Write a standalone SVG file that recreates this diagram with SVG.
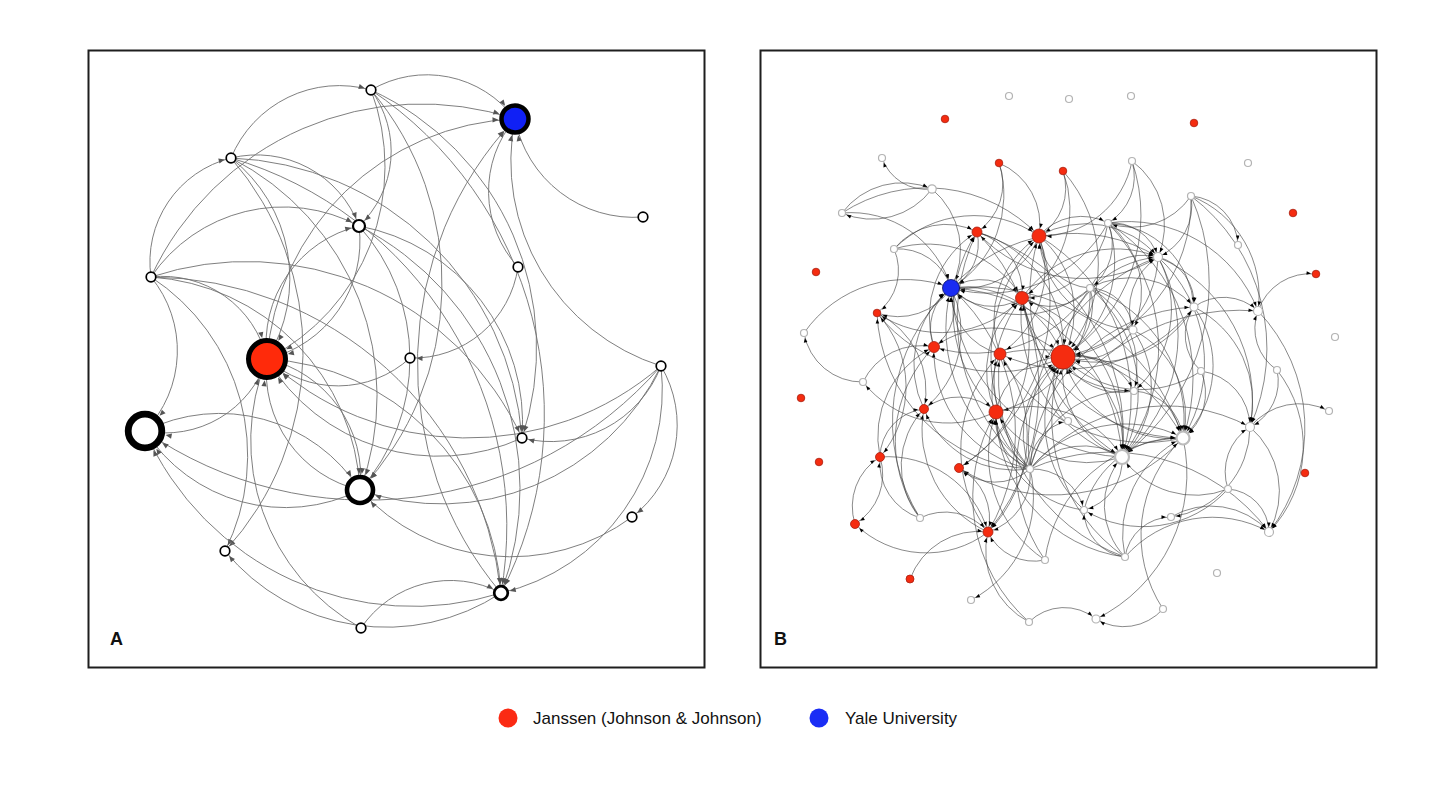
<svg xmlns="http://www.w3.org/2000/svg" width="1456" height="785" viewBox="0 0 1456 785">
<style>
.frame{fill:none;stroke:#1e1e1e;stroke-width:2}
.ea{fill:none;stroke:#707070;stroke-width:0.9}
.eb{fill:none;stroke:#3a3a3a;stroke-width:0.6}
.na{fill:#fff;stroke:#000;stroke-width:1.7}
.ng{fill:#fff;stroke:#b3b3b3;stroke-width:1.2}
.ngb{fill:#fff;stroke:#bcbcbc;stroke-width:2.2}
.nr{fill:#f52c10;stroke:#a82010;stroke-width:0.8}
.lbl{font-family:"Liberation Sans",Arial,sans-serif;font-weight:bold;font-size:18px;fill:#111}
.leg{font-family:"Liberation Sans",Arial,sans-serif;font-size:17px;fill:#111}
</style>
<defs>
<marker id="ms" markerUnits="userSpaceOnUse" viewBox="-30 -5 60 10" markerWidth="60" markerHeight="10" refX="6.5" refY="0" orient="auto" overflow="visible"><path d="M-6,-2.6L0,0L-6,2.6z" fill="#555"/></marker>
<marker id="m3" markerUnits="userSpaceOnUse" viewBox="-30 -5 60 10" markerWidth="60" markerHeight="10" refX="8" refY="0" orient="auto" overflow="visible"><path d="M-6,-2.6L0,0L-6,2.6z" fill="#555"/></marker>
<marker id="m13" markerUnits="userSpaceOnUse" viewBox="-30 -5 60 10" markerWidth="60" markerHeight="10" refX="9" refY="0" orient="auto" overflow="visible"><path d="M-6,-2.6L0,0L-6,2.6z" fill="#555"/></marker>
<marker id="m10" markerUnits="userSpaceOnUse" viewBox="-30 -5 60 10" markerWidth="60" markerHeight="10" refX="16" refY="0" orient="auto" overflow="visible"><path d="M-6,-2.6L0,0L-6,2.6z" fill="#555"/></marker>
<marker id="mY" markerUnits="userSpaceOnUse" viewBox="-30 -5 60 10" markerWidth="60" markerHeight="10" refX="16.5" refY="0" orient="auto" overflow="visible"><path d="M-6,-2.6L0,0L-6,2.6z" fill="#555"/></marker>
<marker id="mW" markerUnits="userSpaceOnUse" viewBox="-30 -5 60 10" markerWidth="60" markerHeight="10" refX="21" refY="0" orient="auto" overflow="visible"><path d="M-6,-2.6L0,0L-6,2.6z" fill="#555"/></marker>
<marker id="mR" markerUnits="userSpaceOnUse" viewBox="-30 -5 60 10" markerWidth="60" markerHeight="10" refX="21.5" refY="0" orient="auto" overflow="visible"><path d="M-6,-2.6L0,0L-6,2.6z" fill="#555"/></marker>
<marker id="bS" markerUnits="userSpaceOnUse" viewBox="-20 -5 40 10" markerWidth="40" markerHeight="10" refX="5" refY="0" orient="auto" overflow="visible"><path d="M-4.5,-1.8L0,0L-4.5,1.8z" fill="#000"/></marker>
<marker id="bM" markerUnits="userSpaceOnUse" viewBox="-20 -5 40 10" markerWidth="40" markerHeight="10" refX="6" refY="0" orient="auto" overflow="visible"><path d="M-4.5,-1.8L0,0L-4.5,1.8z" fill="#000"/></marker>
<marker id="bL" markerUnits="userSpaceOnUse" viewBox="-20 -5 40 10" markerWidth="40" markerHeight="10" refX="8" refY="0" orient="auto" overflow="visible"><path d="M-4.5,-1.8L0,0L-4.5,1.8z" fill="#000"/></marker>
<marker id="bB" markerUnits="userSpaceOnUse" viewBox="-20 -5 40 10" markerWidth="40" markerHeight="10" refX="9.5" refY="0" orient="auto" overflow="visible"><path d="M-4.5,-1.8L0,0L-4.5,1.8z" fill="#000"/></marker>
<marker id="bX" markerUnits="userSpaceOnUse" viewBox="-20 -5 40 10" markerWidth="40" markerHeight="10" refX="13" refY="0" orient="auto" overflow="visible"><path d="M-4.5,-1.8L0,0L-4.5,1.8z" fill="#000"/></marker>
</defs>
<rect width="1456" height="785" fill="#fff"/>
<g id="frames">
<rect class="frame" x="88.5" y="50.5" width="616" height="617"/>
<rect class="frame" x="760.5" y="50.5" width="616" height="617"/>
</g>
<g id="connectors-A">
<path class="ea" marker-end="url(#mY)" d="M371 90A110 110 0 0 1 515 119"/>
<path class="ea" marker-end="url(#m3)" d="M371 90A103 103 0 0 1 359 226"/>
<path class="ea" marker-end="url(#mR)" d="M371 90A216 216 0 0 1 267 359"/>
<path class="ea" marker-end="url(#m10)" d="M371 90A300 300 0 0 1 360 490"/>
<path class="ea" marker-end="url(#m13)" d="M371 90A390 390 0 0 1 501 593"/>
<path class="ea" marker-end="url(#ms)" d="M371 90A284 284 0 0 1 522 438"/>
<path class="ea" marker-end="url(#ms)" d="M231 158A117 117 0 0 1 371 90"/>
<path class="ea" marker-end="url(#m3)" d="M231 158A109 109 0 0 1 359 226"/>
<path class="ea" marker-end="url(#mR)" d="M231 158A153 153 0 0 1 267 359"/>
<path class="ea" marker-end="url(#m10)" d="M231 158A267 267 0 0 1 360 490"/>
<path class="ea" marker-end="url(#m13)" d="M231 158A384 384 0 0 1 501 593"/>
<path class="ea" marker-end="url(#ms)" d="M231 158A295 295 0 0 1 225 551"/>
<path class="ea" marker-end="url(#ms)" d="M231 158A303 303 0 0 1 522 438"/>
<path class="ea" marker-end="url(#ms)" d="M151 277A107 107 0 0 1 231 158"/>
<path class="ea" marker-end="url(#mY)" d="M151 277A298 298 0 0 1 515 119"/>
<path class="ea" marker-end="url(#m3)" d="M151 277A160 160 0 0 1 359 226"/>
<path class="ea" marker-end="url(#mR)" d="M151 277A107 107 0 0 1 267 359"/>
<path class="ea" marker-end="url(#mW)" d="M151 277A116 116 0 0 1 145 431"/>
<path class="ea" marker-end="url(#ms)" d="M151 277A303 303 0 0 1 522 438"/>
<path class="ea" marker-end="url(#m10)" d="M151 277A224 224 0 0 1 360 490"/>
<path class="ea" marker-end="url(#m13)" d="M151 277A354 354 0 0 1 501 593"/>
<path class="ea" marker-end="url(#ms)" d="M151 277A213 213 0 0 1 225 551"/>
<path class="ea" marker-end="url(#mY)" d="M267 359A259 259 0 0 1 515 119"/>
<path class="ea" marker-end="url(#m3)" d="M267 359A121 121 0 0 1 359 226"/>
<path class="ea" marker-end="url(#mW)" d="M267 359A107 107 0 0 1 145 431"/>
<path class="ea" marker-end="url(#m10)" d="M267 359A121 121 0 0 1 360 490"/>
<path class="ea" marker-end="url(#m13)" d="M267 359A248 248 0 0 1 501 593"/>
<path class="ea" marker-end="url(#mR)" d="M359 226A121 121 0 0 1 267 359"/>
<path class="ea" marker-end="url(#m10)" d="M359 226A198 198 0 0 1 360 490"/>
<path class="ea" marker-end="url(#m13)" d="M359 226A295 295 0 0 1 501 593"/>
<path class="ea" marker-end="url(#ms)" d="M359 226A200 200 0 0 1 522 438"/>
<path class="ea" marker-end="url(#mY)" d="M518 267A112 112 0 0 1 515 119"/>
<path class="ea" marker-end="url(#ms)" d="M518 267A106 106 0 0 1 410 358"/>
<path class="ea" marker-end="url(#mY)" d="M661 366A215 215 0 0 1 515 119"/>
<path class="ea" marker-end="url(#mR)" d="M661 366A295 295 0 0 1 267 359"/>
<path class="ea" marker-end="url(#ms)" d="M661 366A118 118 0 0 1 522 438"/>
<path class="ea" marker-end="url(#m10)" d="M661 366A244 244 0 0 1 360 490"/>
<path class="ea" marker-end="url(#m13)" d="M661 366A209 209 0 0 1 501 593"/>
<path class="ea" marker-end="url(#ms)" d="M661 366A116 116 0 0 1 632 517"/>
<path class="ea" marker-end="url(#mW)" d="M661 366A390 390 0 0 1 145 431"/>
<path class="ea" marker-end="url(#mW)" d="M360 490A167 167 0 0 1 145 431"/>
<path class="ea" marker-end="url(#mR)" d="M360 490A121 121 0 0 1 267 359"/>
<path class="ea" marker-end="url(#m10)" d="M632 517A204 204 0 0 1 360 490"/>
<path class="ea" marker-end="url(#ms)" d="M501 593A209 209 0 0 1 225 551"/>
<path class="ea" marker-end="url(#mW)" d="M501 593A293 293 0 0 1 145 431"/>
<path class="ea" marker-end="url(#mY)" d="M501 593A356 356 0 0 1 515 119"/>
<path class="ea" marker-end="url(#mR)" d="M361 628A214 214 0 0 1 267 359"/>
<path class="ea" marker-end="url(#m13)" d="M361 628A108 108 0 0 1 501 593"/>
<path class="ea" marker-end="url(#mY)" d="M643 217A121 121 0 0 1 515 119"/>
<path class="ea" marker-end="url(#m10)" d="M145 431A167 167 0 0 1 360 490"/>
<path class="ea" marker-end="url(#mR)" d="M410 358A107 107 0 0 1 267 359"/>
<path class="ea" marker-end="url(#mR)" d="M522 438A200 200 0 0 1 267 359"/>
</g>
<g id="A-n1"><circle class="na" cx="371" cy="90" r="4.8"/></g>
<g id="A-yale"><circle cx="515" cy="119" r="13.5" fill="#1020f5" stroke="#000" stroke-width="4.5"/></g>
<g id="A-n2"><circle class="na" cx="231" cy="158" r="4.8"/></g>
<g id="A-n3"><circle class="na" cx="359" cy="226" r="6" style="stroke-width:2.2"/></g>
<g id="A-n4"><circle class="na" cx="643" cy="217" r="4.8"/></g>
<g id="A-n5"><circle class="na" cx="151" cy="277" r="4.8"/></g>
<g id="A-n6"><circle class="na" cx="518" cy="267" r="4.8"/></g>
<g id="A-janssen"><circle cx="267" cy="359" r="18.5" fill="#ff2a0a" stroke="#000" stroke-width="5"/></g>
<g id="A-n7"><circle class="na" cx="410" cy="358" r="4.8"/></g>
<g id="A-n8"><circle class="na" cx="661" cy="366" r="4.8"/></g>
<g id="A-n9"><circle class="na" cx="145" cy="431" r="16.8" style="stroke-width:6.8"/></g>
<g id="A-n10"><circle class="na" cx="522" cy="438" r="4.8"/></g>
<g id="A-n11"><circle class="na" cx="360" cy="490" r="13" style="stroke-width:4.6"/></g>
<g id="A-n12"><circle class="na" cx="632" cy="517" r="4.8"/></g>
<g id="A-n13"><circle class="na" cx="225" cy="551" r="4.8"/></g>
<g id="A-n14"><circle class="na" cx="501" cy="593" r="6.8" style="stroke-width:2.7"/></g>
<g id="A-n15"><circle class="na" cx="361" cy="628" r="4.8"/></g>
<text class="lbl" x="110" y="645">A</text>

<g id="connectors-B">
<path class="eb" marker-end="url(#bX)" d="M951 288A105 105 0 0 1 1063 357"/>
<path class="eb" marker-end="url(#bX)" d="M1039 236A98 98 0 0 1 1063 357"/>
<path class="eb" marker-end="url(#bX)" d="M1022 298A56 56 0 0 1 1063 357"/>
<path class="eb" marker-end="url(#bX)" d="M1108 223A114 114 0 0 1 1063 357"/>
<path class="eb" marker-end="url(#bX)" d="M1158 257A104 104 0 0 1 1063 357"/>
<path class="eb" marker-end="url(#bX)" d="M1194 307A113 113 0 0 1 1063 357"/>
<path class="eb" marker-end="url(#bX)" d="M1030 469A94 94 0 0 1 1063 357"/>
<path class="eb" marker-end="url(#bX)" d="M1122 457A93 93 0 0 1 1063 357"/>
<path class="eb" marker-end="url(#bX)" d="M1084 510A121 121 0 0 1 1063 357"/>
<path class="eb" marker-end="url(#bX)" d="M1125 557A169 169 0 0 1 1063 357"/>
<path class="eb" marker-end="url(#bX)" d="M1063 171A140 140 0 0 1 1063 357"/>
<path class="eb" marker-end="url(#bX)" d="M977 232A119 119 0 0 1 1063 357"/>
<path class="eb" marker-end="url(#bX)" d="M1090 288A60 60 0 0 1 1063 357"/>
<path class="eb" marker-end="url(#bX)" d="M1201 371A108 108 0 0 1 1063 357"/>
<path class="eb" marker-end="url(#bX)" d="M1183 438A114 114 0 0 1 1063 357"/>
<path class="eb" marker-end="url(#bX)" d="M934 347A100 100 0 0 1 1063 357"/>
<path class="eb" marker-end="url(#bX)" d="M996 412A67 67 0 0 1 1063 357"/>
<path class="eb" marker-end="url(#bX)" d="M1045 560A158 158 0 0 1 1063 357"/>
<path class="eb" marker-end="url(#bX)" d="M1191 196A159 159 0 0 1 1063 357"/>
<path class="eb" marker-end="url(#bX)" d="M1132 161A168 168 0 0 1 1063 357"/>
<path class="eb" marker-end="url(#bX)" d="M1134 391A64 64 0 0 1 1063 357"/>
<path class="eb" marker-end="url(#bX)" d="M1133 330A61 61 0 0 1 1063 357"/>
<path class="eb" marker-end="url(#bX)" d="M1068 421A48 48 0 0 1 1063 357"/>
<path class="eb" marker-end="url(#bB)" d="M932 189A80 80 0 0 1 951 288"/>
<path class="eb" marker-end="url(#bB)" d="M894 249A55 55 0 0 1 951 288"/>
<path class="eb" marker-end="url(#bB)" d="M804 333A124 124 0 0 1 951 288"/>
<path class="eb" marker-end="url(#bB)" d="M977 232A50 50 0 0 1 951 288"/>
<path class="eb" marker-end="url(#bB)" d="M1039 236A82 82 0 0 1 951 288"/>
<path class="eb" marker-end="url(#bB)" d="M1022 298A56 56 0 0 1 951 288"/>
<path class="eb" marker-end="url(#bB)" d="M1030 469A160 160 0 0 1 951 288"/>
<path class="eb" marker-end="url(#bB)" d="M1090 288A104 104 0 0 1 951 288"/>
<path class="eb" marker-end="url(#bB)" d="M924 409A99 99 0 0 1 951 288"/>
<path class="eb" marker-end="url(#bB)" d="M934 347A50 50 0 0 1 951 288"/>
<path class="eb" marker-end="url(#bB)" d="M920 518A182 182 0 0 1 951 288"/>
<path class="eb" marker-end="url(#bB)" d="M1108 223A137 137 0 0 1 951 288"/>
<path class="eb" marker-end="url(#bB)" d="M1000 354A65 65 0 0 1 951 288"/>
<path class="eb" marker-end="url(#bB)" d="M842 213A104 104 0 0 1 951 288"/>
<path class="eb" marker-end="url(#bB)" d="M999 163A108 108 0 0 1 951 288"/>
<path class="eb" marker-end="url(#bB)" d="M1122 457A179 179 0 0 1 951 288"/>
<path class="eb" marker-end="url(#bL)" d="M999 163A67 67 0 0 1 1039 236"/>
<path class="eb" marker-end="url(#bL)" d="M1063 171A56 56 0 0 1 1039 236"/>
<path class="eb" marker-end="url(#bL)" d="M894 249A113 113 0 0 1 1039 236"/>
<path class="eb" marker-end="url(#bL)" d="M1030 469A178 178 0 0 1 1039 236"/>
<path class="eb" marker-end="url(#bL)" d="M1000 354A100 100 0 0 1 1039 236"/>
<path class="eb" marker-end="url(#bL)" d="M1090 288A54 54 0 0 1 1039 236"/>
<path class="eb" marker-end="url(#bL)" d="M1133 330A99 99 0 0 1 1039 236"/>
<path class="eb" marker-end="url(#bL)" d="M1122 457A190 190 0 0 1 1039 236"/>
<path class="eb" marker-end="url(#bL)" d="M842 213A155 155 0 0 1 1039 236"/>
<path class="eb" marker-end="url(#bL)" d="M1132 161A92 92 0 0 1 1039 236"/>
<path class="eb" marker-end="url(#bL)" d="M1108 223A87 87 0 0 1 1022 298"/>
<path class="eb" marker-end="url(#bL)" d="M977 232A63 63 0 0 1 1022 298"/>
<path class="eb" marker-end="url(#bL)" d="M996 412A93 93 0 0 1 1022 298"/>
<path class="eb" marker-end="url(#bL)" d="M1030 469A131 131 0 0 1 1022 298"/>
<path class="eb" marker-end="url(#bL)" d="M1122 457A149 149 0 0 1 1022 298"/>
<path class="eb" marker-end="url(#bL)" d="M951 288A56 56 0 0 1 1022 298"/>
<path class="eb" marker-end="url(#bL)" d="M1134 391A112 112 0 0 1 1022 298"/>
<path class="eb" marker-end="url(#bL)" d="M894 249A111 111 0 0 1 1022 298"/>
<path class="eb" marker-end="url(#bL)" d="M1183 438A163 163 0 0 1 1022 298"/>
<path class="eb" marker-end="url(#bL)" d="M1090 288A52 52 0 0 1 1022 298"/>
<path class="eb" marker-end="url(#bL)" d="M1063 171A107 107 0 0 1 1022 298"/>
<path class="eb" marker-end="url(#bM)" d="M999 163A58 58 0 0 1 977 232"/>
<path class="eb" marker-end="url(#bM)" d="M894 249A67 67 0 0 1 977 232"/>
<path class="eb" marker-end="url(#bM)" d="M934 347A99 99 0 0 1 977 232"/>
<path class="eb" marker-end="url(#bM)" d="M996 412A141 141 0 0 1 977 232"/>
<path class="eb" marker-end="url(#bM)" d="M1158 257A143 143 0 0 1 977 232"/>
<path class="eb" marker-end="url(#bM)" d="M1030 469A194 194 0 0 1 977 232"/>
<path class="eb" marker-end="url(#bM)" d="M880 457A99 99 0 0 1 934 347"/>
<path class="eb" marker-end="url(#bM)" d="M1030 469A120 120 0 0 1 934 347"/>
<path class="eb" marker-end="url(#bM)" d="M951 288A50 50 0 0 1 934 347"/>
<path class="eb" marker-end="url(#bM)" d="M1090 288A135 135 0 0 1 934 347"/>
<path class="eb" marker-end="url(#bM)" d="M920 518A133 133 0 0 1 934 347"/>
<path class="eb" marker-end="url(#bL)" d="M1030 469A95 95 0 0 1 1000 354"/>
<path class="eb" marker-end="url(#bL)" d="M1194 307A160 160 0 0 1 1000 354"/>
<path class="eb" marker-end="url(#bL)" d="M1183 438A163 163 0 0 1 1000 354"/>
<path class="eb" marker-end="url(#bL)" d="M1039 236A100 100 0 0 1 1000 354"/>
<path class="eb" marker-end="url(#bL)" d="M988 532A137 137 0 0 1 1000 354"/>
<path class="eb" marker-end="url(#bL)" d="M1125 557A190 190 0 0 1 1000 354"/>
<path class="eb" marker-end="url(#bL)" d="M1030 469A53 53 0 0 1 996 412"/>
<path class="eb" marker-end="url(#bL)" d="M1090 288A121 121 0 0 1 996 412"/>
<path class="eb" marker-end="url(#bL)" d="M1122 457A108 108 0 0 1 996 412"/>
<path class="eb" marker-end="url(#bL)" d="M924 409A55 55 0 0 1 996 412"/>
<path class="eb" marker-end="url(#bL)" d="M1045 560A126 126 0 0 1 996 412"/>
<path class="eb" marker-end="url(#bL)" d="M1125 557A148 148 0 0 1 996 412"/>
<path class="eb" marker-end="url(#bL)" d="M1084 510A100 100 0 0 1 996 412"/>
<path class="eb" marker-end="url(#bM)" d="M951 288A99 99 0 0 1 924 409"/>
<path class="eb" marker-end="url(#bM)" d="M880 457A49 49 0 0 1 924 409"/>
<path class="eb" marker-end="url(#bM)" d="M1030 469A98 98 0 0 1 924 409"/>
<path class="eb" marker-end="url(#bM)" d="M988 532A112 112 0 0 1 924 409"/>
<path class="eb" marker-end="url(#bM)" d="M1030 469A53 53 0 0 1 959 468"/>
<path class="eb" marker-end="url(#bM)" d="M1039 236A198 198 0 0 1 959 468"/>
<path class="eb" marker-end="url(#bM)" d="M1022 298A146 146 0 0 1 959 468"/>
<path class="eb" marker-end="url(#bM)" d="M1183 438A177 177 0 0 1 959 468"/>
<path class="eb" marker-end="url(#bM)" d="M910 579A73 73 0 0 1 988 532"/>
<path class="eb" marker-end="url(#bM)" d="M951 288A194 194 0 0 1 988 532"/>
<path class="eb" marker-end="url(#bM)" d="M1030 469A60 60 0 0 1 988 532"/>
<path class="eb" marker-end="url(#bM)" d="M977 232A228 228 0 0 1 988 532"/>
<path class="eb" marker-end="url(#bM)" d="M1000 354A137 137 0 0 1 988 532"/>
<path class="eb" marker-end="url(#bM)" d="M1045 560A51 51 0 0 1 988 532"/>
<path class="eb" marker-end="url(#bM)" d="M1029 622A80 80 0 0 1 988 532"/>
<path class="eb" marker-end="url(#bM)" d="M880 457A58 58 0 0 1 855 524"/>
<path class="eb" marker-end="url(#bM)" d="M855 524A58 58 0 0 1 880 457"/>
<path class="eb" marker-end="url(#bM)" d="M988 532A102 102 0 0 1 855 524"/>
<path class="eb" marker-end="url(#bM)" d="M920 518A58 58 0 0 1 880 457"/>
<path class="eb" marker-end="url(#bM)" d="M877 313A108 108 0 0 1 880 457"/>
<path class="eb" marker-end="url(#bM)" d="M951 288A63 63 0 0 1 877 313"/>
<path class="eb" marker-end="url(#bM)" d="M1022 298A113 113 0 0 1 877 313"/>
<path class="eb" marker-end="url(#bM)" d="M1063 357A153 153 0 0 1 877 313"/>
<path class="eb" marker-end="url(#bM)" d="M1030 469A163 163 0 0 1 877 313"/>
<path class="eb" marker-end="url(#bS)" d="M863 382A59 59 0 0 1 804 333"/>
<path class="eb" marker-end="url(#bS)" d="M996 412A109 109 0 0 1 863 382"/>
<path class="eb" marker-end="url(#bS)" d="M932 189A47 47 0 0 1 882 158"/>
<path class="eb" marker-end="url(#bS)" d="M932 189A75 75 0 0 1 842 213"/>
<path class="eb" marker-end="url(#bS)" d="M842 213A75 75 0 0 1 932 189"/>
<path class="eb" marker-end="url(#bM)" d="M894 249A53 53 0 0 1 877 313"/>
<path class="eb" marker-end="url(#bL)" d="M1063 357A93 93 0 0 1 1122 457"/>
<path class="eb" marker-end="url(#bL)" d="M1108 223A180 180 0 0 1 1122 457"/>
<path class="eb" marker-end="url(#bL)" d="M1125 557A75 75 0 0 1 1122 457"/>
<path class="eb" marker-end="url(#bL)" d="M1030 469A73 73 0 0 1 1122 457"/>
<path class="eb" marker-end="url(#bL)" d="M1090 288A137 137 0 0 1 1122 457"/>
<path class="eb" marker-end="url(#bL)" d="M1158 257A161 161 0 0 1 1122 457"/>
<path class="eb" marker-end="url(#bL)" d="M1133 330A98 98 0 0 1 1122 457"/>
<path class="eb" marker-end="url(#bL)" d="M1228 489A89 89 0 0 1 1122 457"/>
<path class="eb" marker-end="url(#bL)" d="M1191 196A217 217 0 0 1 1122 457"/>
<path class="eb" marker-end="url(#bL)" d="M1022 298A149 149 0 0 1 1122 457"/>
<path class="eb" marker-end="url(#bL)" d="M1039 236A190 190 0 0 1 1122 457"/>
<path class="eb" marker-end="url(#bL)" d="M977 232A212 212 0 0 1 1122 457"/>
<path class="eb" marker-end="url(#bL)" d="M951 288A179 179 0 0 1 1122 457"/>
<path class="eb" marker-end="url(#bL)" d="M996 412A108 108 0 0 1 1122 457"/>
<path class="eb" marker-end="url(#bL)" d="M1030 469A124 124 0 0 1 1183 438"/>
<path class="eb" marker-end="url(#bL)" d="M1158 257A143 143 0 0 1 1183 438"/>
<path class="eb" marker-end="url(#bL)" d="M1125 557A107 107 0 0 1 1183 438"/>
<path class="eb" marker-end="url(#bL)" d="M1063 357A114 114 0 0 1 1183 438"/>
<path class="eb" marker-end="url(#bL)" d="M1108 223A184 184 0 0 1 1183 438"/>
<path class="eb" marker-end="url(#bL)" d="M1084 510A96 96 0 0 1 1183 438"/>
<path class="eb" marker-end="url(#bL)" d="M1163 609A134 134 0 0 1 1183 438"/>
<path class="eb" marker-end="url(#bL)" d="M1090 288A140 140 0 0 1 1183 438"/>
<path class="eb" marker-end="url(#bL)" d="M1133 330A96 96 0 0 1 1183 438"/>
<path class="eb" marker-end="url(#bL)" d="M1201 371A56 56 0 0 1 1183 438"/>
<path class="eb" marker-end="url(#bL)" d="M1194 307A101 101 0 0 1 1183 438"/>
<path class="eb" marker-end="url(#bL)" d="M951 288A219 219 0 0 1 1183 438"/>
<path class="eb" marker-end="url(#bL)" d="M1000 354A163 163 0 0 1 1183 438"/>
<path class="eb" marker-end="url(#bS)" d="M1191 196A191 191 0 0 1 1250 427"/>
<path class="eb" marker-end="url(#bS)" d="M1194 307A107 107 0 0 1 1250 427"/>
<path class="eb" marker-end="url(#bS)" d="M1030 469A178 178 0 0 1 1250 427"/>
<path class="eb" marker-end="url(#bS)" d="M1201 371A57 57 0 0 1 1250 427"/>
<path class="eb" marker-end="url(#bS)" d="M1158 257A155 155 0 0 1 1250 427"/>
<path class="eb" marker-end="url(#bS)" d="M1250 427A85 85 0 0 1 1269 532"/>
<path class="eb" marker-end="url(#bS)" d="M1228 489A44 44 0 0 1 1269 532"/>
<path class="eb" marker-end="url(#bS)" d="M1171 517A78 78 0 0 1 1269 532"/>
<path class="eb" marker-end="url(#bS)" d="M1030 469A198 198 0 0 1 1269 532"/>
<path class="eb" marker-end="url(#bS)" d="M1258 311A169 169 0 0 1 1269 532"/>
<path class="eb" marker-end="url(#bS)" d="M1277 370A124 124 0 0 1 1269 532"/>
<path class="eb" marker-end="url(#bS)" d="M1125 557A116 116 0 0 1 1269 532"/>
<path class="eb" marker-end="url(#bS)" d="M1108 223A48 48 0 0 1 1158 257"/>
<path class="eb" marker-end="url(#bS)" d="M1030 469A198 198 0 0 1 1158 257"/>
<path class="eb" marker-end="url(#bS)" d="M1090 288A60 60 0 0 1 1158 257"/>
<path class="eb" marker-end="url(#bS)" d="M1063 357A104 104 0 0 1 1158 257"/>
<path class="eb" marker-end="url(#bS)" d="M1133 330A62 62 0 0 1 1158 257"/>
<path class="eb" marker-end="url(#bS)" d="M1132 161A80 80 0 0 1 1158 257"/>
<path class="eb" marker-end="url(#bS)" d="M1039 236A95 95 0 0 1 1158 257"/>
<path class="eb" marker-end="url(#bS)" d="M951 288A164 164 0 0 1 1158 257"/>
<path class="eb" marker-end="url(#bS)" d="M1022 298A114 114 0 0 1 1158 257"/>
<path class="eb" marker-end="url(#bS)" d="M1191 196A56 56 0 0 1 1158 257"/>
<path class="eb" marker-end="url(#bS)" d="M1108 223A139 139 0 0 1 1258 311"/>
<path class="eb" marker-end="url(#bS)" d="M1191 196A107 107 0 0 1 1258 311"/>
<path class="eb" marker-end="url(#bS)" d="M1194 307A50 50 0 0 1 1258 311"/>
<path class="eb" marker-end="url(#bS)" d="M1258 311A55 55 0 0 1 1316 274"/>
<path class="eb" marker-end="url(#bS)" d="M1030 469A218 218 0 0 1 1258 311"/>
<path class="eb" marker-end="url(#bS)" d="M1277 370A50 50 0 0 1 1258 311"/>
<path class="eb" marker-end="url(#bS)" d="M1108 223A90 90 0 0 1 1194 307"/>
<path class="eb" marker-end="url(#bS)" d="M1090 288A84 84 0 0 1 1194 307"/>
<path class="eb" marker-end="url(#bS)" d="M1030 469A172 172 0 0 1 1194 307"/>
<path class="eb" marker-end="url(#bS)" d="M1201 371A49 49 0 0 1 1194 307"/>
<path class="eb" marker-end="url(#bS)" d="M1158 257A48 48 0 0 1 1194 307"/>
<path class="eb" marker-end="url(#bS)" d="M1191 196A51 51 0 0 1 1238 245"/>
<path class="eb" marker-end="url(#bS)" d="M1132 161A54 54 0 0 1 1108 223"/>
<path class="eb" marker-end="url(#bS)" d="M1108 223A54 54 0 0 1 1090 288"/>
<path class="eb" marker-end="url(#bS)" d="M1108 223A88 88 0 0 1 1133 330"/>
<path class="eb" marker-end="url(#bS)" d="M1030 469A47 47 0 0 1 1068 421"/>
<path class="eb" marker-end="url(#bS)" d="M1030 469A53 53 0 0 1 1084 510"/>
<path class="eb" marker-end="url(#bS)" d="M1122 457A51 51 0 0 1 1084 510"/>
<path class="eb" marker-end="url(#bS)" d="M1228 489A114 114 0 0 1 1084 510"/>
<path class="eb" marker-end="url(#bS)" d="M1250 427A91 91 0 0 1 1171 517"/>
<path class="eb" marker-end="url(#bS)" d="M1183 438A162 162 0 0 1 1096 619"/>
<path class="eb" marker-end="url(#bS)" d="M1163 609A53 53 0 0 1 1096 619"/>
<path class="eb" marker-end="url(#bS)" d="M1029 622A50 50 0 0 1 1096 619"/>
<path class="eb" marker-end="url(#bS)" d="M1030 469A116 116 0 0 1 971 600"/>
<path class="eb" marker-end="url(#bS)" d="M1125 557A47 47 0 0 1 1084 510"/>
<path class="eb" marker-end="url(#bS)" d="M1125 557A47 47 0 0 1 1171 517"/>
<path class="eb" marker-end="url(#bL)" d="M1134 391A52 52 0 0 1 1183 438"/>
<path class="eb" marker-end="url(#bS)" d="M1030 469A101 101 0 0 1 1134 391"/>
<path class="eb" marker-end="url(#bS)" d="M1063 357A64 64 0 0 1 1134 391"/>
<path class="eb" marker-end="url(#bS)" d="M1158 257A108 108 0 0 1 1134 391"/>
<path class="eb" marker-end="url(#bS)" d="M1090 288A91 91 0 0 1 1134 391"/>
<path class="eb" marker-end="url(#bS)" d="M1277 370A51 51 0 0 1 1250 427"/>
<path class="eb" marker-end="url(#bS)" d="M1250 427A64 64 0 0 1 1329 411"/>
<path class="eb" marker-end="url(#bM)" d="M920 518A56 56 0 0 1 988 532"/>
<path class="eb" marker-end="url(#bM)" d="M920 518A82 82 0 0 1 924 409"/>
<path class="eb" marker-end="url(#bL)" d="M1029 622A167 167 0 0 1 996 412"/>
<path class="eb" marker-end="url(#bL)" d="M1045 560A140 140 0 0 1 1183 438"/>
<path class="eb" marker-end="url(#bM)" d="M880 457A104 104 0 0 1 988 532"/>
<path class="eb" marker-end="url(#bS)" d="M1090 288A45 45 0 0 1 1133 330"/>
<path class="eb" marker-end="url(#bS)" d="M1228 489A53 53 0 0 1 1250 427"/>
<path class="eb" marker-end="url(#bS)" d="M1191 196A71 71 0 0 1 1108 223"/>
<path class="eb" marker-end="url(#bS)" d="M1039 236A56 56 0 0 1 1108 223"/>
<path class="eb" marker-end="url(#bM)" d="M877 313A86 86 0 0 1 924 409"/>
<path class="eb" marker-end="url(#bM)" d="M863 382A64 64 0 0 1 934 347"/>
<path class="eb" marker-end="url(#bM)" d="M959 468A57 57 0 0 1 988 532"/>
</g>
<g id="B-g1"><circle class="ng" cx="1009" cy="96" r="3.5"/></g>
<g id="B-g2"><circle class="ng" cx="1069" cy="99" r="3.5"/></g>
<g id="B-g3"><circle class="ng" cx="1131" cy="96" r="3.5"/></g>
<g id="B-r4"><circle class="nr" cx="945" cy="119" r="3.8"/></g>
<g id="B-r5"><circle class="nr" cx="1194" cy="123" r="3.8"/></g>
<g id="B-g6"><circle class="ng" cx="882" cy="158" r="3.5"/></g>
<g id="B-r7"><circle class="nr" cx="999" cy="163" r="3.8"/></g>
<g id="B-r8"><circle class="nr" cx="1063" cy="171" r="3.8"/></g>
<g id="B-g9"><circle class="ng" cx="1132" cy="161" r="3.5"/></g>
<g id="B-g10"><circle class="ng" cx="1248" cy="163" r="3.5"/></g>
<g id="B-g11"><circle class="ng" cx="932" cy="189" r="4.2"/></g>
<g id="B-g12"><circle class="ng" cx="1191" cy="196" r="3.5"/></g>
<g id="B-g13"><circle class="ng" cx="842" cy="213" r="3.5"/></g>
<g id="B-r14"><circle class="nr" cx="1293" cy="213" r="3.8"/></g>
<g id="B-r15"><circle class="nr" cx="977" cy="232" r="5"/></g>
<g id="B-r16"><circle class="nr" cx="1039" cy="236" r="7"/></g>
<g id="B-g17"><circle class="ng" cx="1108" cy="223" r="3.5"/></g>
<g id="B-g18"><circle class="ng" cx="1238" cy="245" r="3.5"/></g>
<g id="B-g19"><circle class="ng" cx="894" cy="249" r="3.5"/></g>
<g id="B-g20"><circle class="ng" cx="1158" cy="257" r="4.5"/></g>
<g id="B-r21"><circle class="nr" cx="816" cy="272" r="3.8"/></g>
<g id="B-r22"><circle class="nr" cx="1316" cy="274" r="3.8"/></g>
<g id="B-yale"><circle cx="951" cy="288" r="8.5" fill="#1a2cf2" stroke="#0a1060" stroke-width="0.8"/></g>
<g id="B-g24"><circle class="ng" cx="1090" cy="288" r="3.5"/></g>
<g id="B-r25"><circle class="nr" cx="1022" cy="298" r="6.5"/></g>
<g id="B-g26"><circle class="ng" cx="1194" cy="307" r="4"/></g>
<g id="B-g27"><circle class="ng" cx="1258" cy="311" r="4.5"/></g>
<g id="B-r28"><circle class="nr" cx="877" cy="313" r="3.8"/></g>
<g id="B-g29"><circle class="ng" cx="804" cy="333" r="3.5"/></g>
<g id="B-g30"><circle class="ng" cx="1133" cy="330" r="4"/></g>
<g id="B-g31"><circle class="ng" cx="1335" cy="337" r="3.5"/></g>
<g id="B-r32"><circle class="nr" cx="934" cy="347" r="5.5"/></g>
<g id="B-r33"><circle class="nr" cx="1000" cy="354" r="6"/></g>
<g id="B-janssen"><circle class="nr" cx="1063" cy="357" r="12"/></g>
<g id="B-g35"><circle class="ng" cx="1201" cy="371" r="3.5"/></g>
<g id="B-g36"><circle class="ng" cx="1277" cy="370" r="3.5"/></g>
<g id="B-g37"><circle class="ng" cx="863" cy="382" r="3.5"/></g>
<g id="B-g38"><circle class="ng" cx="1134" cy="391" r="3.5"/></g>
<g id="B-r39"><circle class="nr" cx="801" cy="398" r="3.8"/></g>
<g id="B-r40"><circle class="nr" cx="924" cy="409" r="4.5"/></g>
<g id="B-r41"><circle class="nr" cx="996" cy="412" r="7"/></g>
<g id="B-g42"><circle class="ng" cx="1329" cy="411" r="3.5"/></g>
<g id="B-g43"><circle class="ng" cx="1068" cy="421" r="3.5"/></g>
<g id="B-g44"><circle class="ng" cx="1250" cy="427" r="4.5"/></g>
<g id="B-g45"><circle class="ngb" cx="1183" cy="438" r="6.5"/></g>
<g id="B-g46"><circle class="ngb" cx="1122" cy="457" r="7"/></g>
<g id="B-r47"><circle class="nr" cx="819" cy="462" r="3.8"/></g>
<g id="B-r48"><circle class="nr" cx="880" cy="457" r="4.5"/></g>
<g id="B-r49"><circle class="nr" cx="959" cy="468" r="4.5"/></g>
<g id="B-g50"><circle class="ng" cx="1030" cy="469" r="3.5"/></g>
<g id="B-r51"><circle class="nr" cx="1305" cy="473" r="3.8"/></g>
<g id="B-g52"><circle class="ng" cx="1228" cy="489" r="3.5"/></g>
<g id="B-g53"><circle class="ng" cx="1084" cy="510" r="3.5"/></g>
<g id="B-g54"><circle class="ng" cx="1171" cy="517" r="3.5"/></g>
<g id="B-g55"><circle class="ng" cx="920" cy="518" r="3.5"/></g>
<g id="B-r56"><circle class="nr" cx="855" cy="524" r="4.5"/></g>
<g id="B-r57"><circle class="nr" cx="988" cy="532" r="5"/></g>
<g id="B-g58"><circle class="ng" cx="1269" cy="532" r="4.5"/></g>
<g id="B-g59"><circle class="ng" cx="1125" cy="557" r="3.5"/></g>
<g id="B-g60"><circle class="ng" cx="1045" cy="560" r="3.5"/></g>
<g id="B-g61"><circle class="ng" cx="1217" cy="573" r="3.5"/></g>
<g id="B-r62"><circle class="nr" cx="910" cy="579" r="4"/></g>
<g id="B-g63"><circle class="ng" cx="971" cy="600" r="3.5"/></g>
<g id="B-g64"><circle class="ng" cx="1163" cy="609" r="3.5"/></g>
<g id="B-g65"><circle class="ng" cx="1096" cy="619" r="4"/></g>
<g id="B-g66"><circle class="ng" cx="1029" cy="622" r="3.5"/></g>
<text class="lbl" x="774" y="645">B</text>

<g id="legend">
<circle cx="508" cy="718" r="9.5" fill="#fb2a13"/>
<text class="leg" x="533" y="724">Janssen (Johnson &amp; Johnson)</text>
<circle cx="819" cy="718" r="9.5" fill="#1a2df5"/>
<text class="leg" x="845" y="724">Yale University</text>
</g>
</svg>
